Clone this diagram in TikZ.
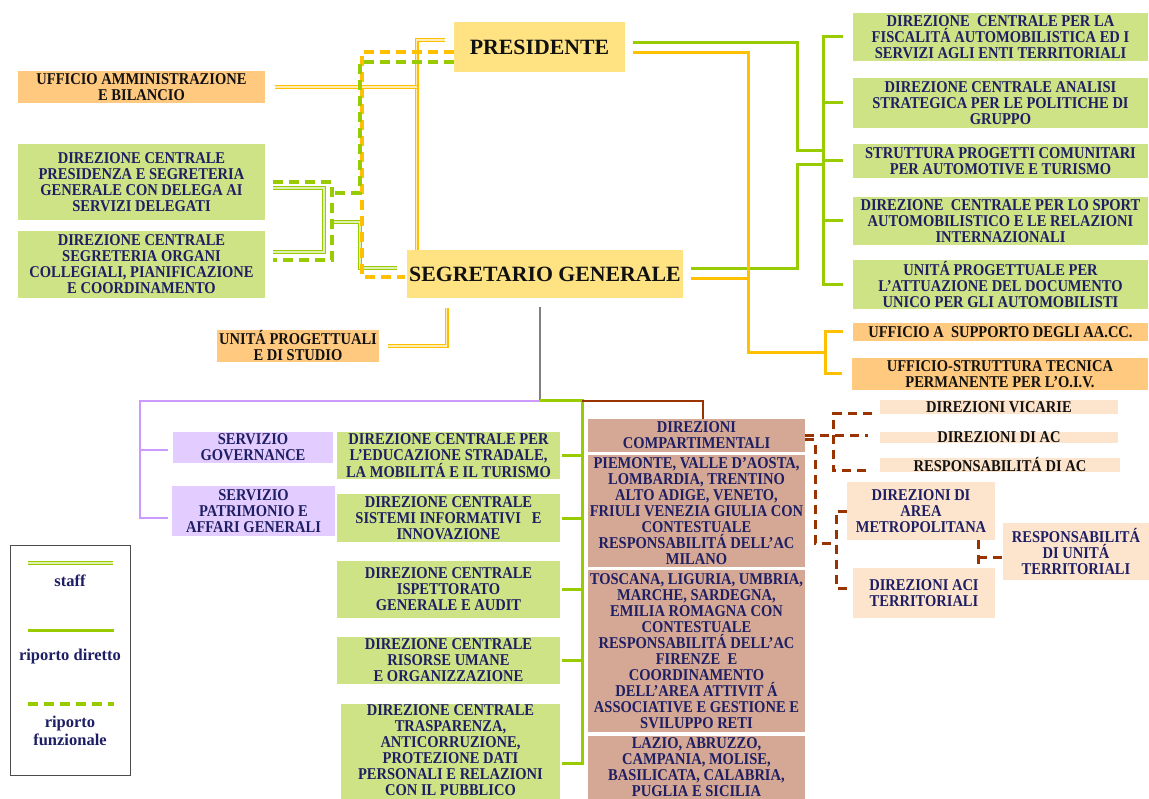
\documentclass[tikz,border=0pt]{standalone}
\usepackage{fontspec}
\setmainfont{Liberation Serif}
\newfontfamily\unitfont{Liberation Serif}[FakeStretch=0.88]
\usetikzlibrary{fit}

\definecolor{navy}{HTML}{1E1E64}
\definecolor{ink}{HTML}{111111}
\definecolor{linegreen}{HTML}{99CC00}
\definecolor{lineorange}{HTML}{FFC000}
\definecolor{linepurple}{HTML}{CC99FF}
\definecolor{linebrown}{HTML}{993300}
\definecolor{linegray}{HTML}{808080}
\definecolor{fillgreen}{HTML}{CDE385}
\definecolor{fillorange}{HTML}{FFC97F}
\definecolor{fillyellow}{HTML}{FFE282}
\definecolor{fillpurple}{HTML}{E3CCFF}
\definecolor{fillbrown}{HTML}{D4A894}
\definecolor{fillpeach}{HTML}{FDE4CC}

\tikzset{
  unit/.style={rectangle, inner sep=0pt, align=center, text=navy,
    font=\unitfont\fontsize{16.5}{16}\selectfont\bfseries},
  greenunit/.style={unit, fill=fillgreen},
  orangeunit/.style={unit, fill=fillorange, text=ink},
  topunit/.style={unit, fill=fillyellow, text=ink, font=\fontsize{21.8}{24}\selectfont\bfseries},
  purpleunit/.style={unit, fill=fillpurple},
  brownunit/.style={unit, fill=fillbrown},
  peachunit/.style={unit, fill=fillpeach},
  thinunit/.style={peachunit, text=ink},
  legendtext/.style={align=center, inner sep=0pt, text=navy,
    font=\fontsize{16.5}{18}\selectfont\bfseries},
  direct/.style={line width=3pt},
  staffline/.style={draw=#1, double=#1!30, line width=1.1pt, double distance=1.2pt},
  funcline/.style={line width=3.5pt, dash pattern=on 10pt off 6pt},
  bdash/.style={linebrown, line width=3pt, dash pattern=on 9pt off 6pt},
}

% style, name, x1, y1, x2, y2, text
\newcommand\orgunit[7]{%
  \node[#1, minimum width={#5-#3}, minimum height={#6-#4}] (#2)
    at ({(#3+#5)/2},{(#4+#6)/2}) {#7};}

\begin{document}
\begin{tikzpicture}[x=1pt, y=-1pt]
    \useasboundingbox (0,0) rectangle (1149,799);

    \orgunit{topunit}{pres}{454}{22}{625}{72}{PRESIDENTE}
    \orgunit{topunit}{segr}{407}{250}{683}{298}{SEGRETARIO GENERALE}

    \orgunit{orangeunit}{uffamm}{18}{71}{265}{103}{UFFICIO AMMINISTRAZIONE\\E BILANCIO}
    \orgunit{greenunit}{dcpres}{18}{144}{265}{220}{DIREZIONE CENTRALE\\PRESIDENZA E SEGRETERIA\\GENERALE CON DELEGA AI\\SERVIZI DELEGATI}
    \orgunit{greenunit}{dcsegr}{18}{231}{265}{298}{DIREZIONE CENTRALE\\SEGRETERIA ORGANI\\COLLEGIALI, PIANIFICAZIONE\\E COORDINAMENTO}
    \orgunit{orangeunit}{unitprog}{217}{330}{379}{362}{UNITÁ PROGETTUALI\\E DI STUDIO}

    \orgunit{greenunit}{fisc}{853}{13}{1148}{61}{DIREZIONE~ CENTRALE PER LA\\FISCALITÁ AUTOMOBILISTICA ED I\\SERVIZI AGLI ENTI TERRITORIALI}
    \orgunit{greenunit}{analisi}{853}{78}{1148}{128}{DIREZIONE CENTRALE ANALISI\\STRATEGICA PER LE POLITICHE DI\\GRUPPO}
    \orgunit{greenunit}{progcom}{853}{144}{1148}{178}{STRUTTURA PROGETTI COMUNITARI\\PER AUTOMOTIVE E TURISMO}
    \orgunit{greenunit}{sport}{853}{197}{1148}{245}{DIREZIONE~ CENTRALE PER LO SPORT\\AUTOMOBILISTICO E LE RELAZIONI\\INTERNAZIONALI}
    \orgunit{greenunit}{docunico}{853}{260}{1148}{309}{UNITÁ PROGETTUALE PER\\L’ATTUAZIONE DEL DOCUMENTO\\UNICO PER GLI AUTOMOBILISTI}
    \orgunit{orangeunit}{suppaacc}{853}{323}{1148}{341}{UFFICIO A~ SUPPORTO DEGLI AA.CC.}
    \orgunit{orangeunit}{oiv}{852}{358}{1148}{390}{UFFICIO-STRUTTURA TECNICA\\PERMANENTE PER L’O.I.V.}

    \orgunit{purpleunit}{govern}{173}{432}{333}{463}{SERVIZIO\\GOVERNANCE}
    \orgunit{purpleunit}{patrim}{172}{486}{335}{536}{SERVIZIO\\PATRIMONIO E\\AFFARI GENERALI}
    \orgunit{greenunit}{educ}{337}{432}{560}{479}{DIREZIONE CENTRALE PER\\L’EDUCAZIONE STRADALE,\\LA MOBILITÁ E IL TURISMO}
    \orgunit{greenunit}{sistinf}{337}{494}{560}{542}{DIREZIONE CENTRALE\\SISTEMI INFORMATIVI~~ E\\INNOVAZIONE}
    \orgunit{greenunit}{ispett}{337}{561}{560}{618}{DIREZIONE CENTRALE\\ISPETTORATO\\GENERALE E AUDIT}
    \orgunit{greenunit}{risorse}{337}{637}{560}{684}{DIREZIONE CENTRALE\\RISORSE UMANE\\E ORGANIZZAZIONE}
    \orgunit{greenunit}{traspar}{341}{704}{560}{796}{DIREZIONE CENTRALE\\TRASPARENZA,\\ANTICORRUZIONE,\\PROTEZIONE DATI\\PERSONALI E RELAZIONI\\CON IL PUBBLICO}
    \fill[fillgreen] (traspar.south west) rectangle (560,799);

    \orgunit{brownunit}{dircomp}{588}{419}{805}{452}{DIREZIONI\\COMPARTIMENTALI}
    \orgunit{brownunit}{piemonte}{588}{455}{805}{567}{PIEMONTE, VALLE D’AOSTA,\\LOMBARDIA, TRENTINO\\ALTO ADIGE, VENETO,\\FRIULI VENEZIA GIULIA CON\\CONTESTUALE\\RESPONSABILITÁ DELL’AC\\MILANO}
    \orgunit{brownunit}{toscana}{588}{570}{805}{732}{TOSCANA, LIGURIA, UMBRIA,\\MARCHE, SARDEGNA,\\EMILIA ROMAGNA CON\\CONTESTUALE\\RESPONSABILITÁ DELL’AC\\FIRENZE~ E\\COORDINAMENTO\\DELL’AREA ATTIVIT Á\\ASSOCIATIVE E GESTIONE E\\SVILUPPO RETI}
    \orgunit{brownunit}{lazio}{588}{736}{805}{799}{LAZIO, ABRUZZO,\\CAMPANIA, MOLISE,\\BASILICATA, CALABRIA,\\PUGLIA E SICILIA}

    \orgunit{thinunit}{vicarie}{880}{400}{1118}{414}{DIREZIONI VICARIE}
    \orgunit{thinunit}{dirac}{880}{432}{1118}{443}{DIREZIONI DI AC}
    \orgunit{thinunit}{respac}{880}{458}{1120}{472}{RESPONSABILITÁ DI AC}
    \orgunit{peachunit}{metro}{847}{482}{995}{540}{DIREZIONI DI\\AREA\\METROPOLITANA}
    \orgunit{peachunit}{aciterr}{853}{568}{995}{618}{DIREZIONI ACI\\TERRITORIALI}
    \orgunit{peachunit}{unitterr}{1003}{523}{1149}{580}{RESPONSABILITÁ\\DI UNITÁ\\TERRITORIALI}

    \coordinate (gbus) at (823,0);
    \coordinate (obus) at (825,0);
    \draw[direct, linegreen] ([shift={(8,-4)}]pres.east) -| (797,151) -- (823,151);
    \draw[direct, linegreen] ([shift={(8,-5)}]segr.east) -| (797,165) -- (823,165);
    \draw[direct, linegreen] ([xshift=-10]fisc.west) -| (gbus |- docunico.west) -- ([xshift=-10]docunico.west);
    \foreach \n in {analisi,progcom,sport}
        \draw[direct, linegreen] (gbus |- \n.west) -- ([xshift=-10]\n.west);
    \draw[direct, lineorange] ([shift={(8,6)}]pres.east) -| (748,353) -- (825,353);
    \draw[direct, lineorange] ([shift={(8,5)}]segr.east) -- (748,279);
    \draw[direct, lineorange] ([xshift=-10]suppaacc.west) -| (obus |- oiv.west) -- ([xshift=-10]oiv.west);

    \draw[staffline=lineorange] ([shift={(-9,-7)}]pres.west) -| ([xshift=10]segr.north west);
    \draw[staffline=lineorange] ([xshift=10]uffamm.east) -- (417,87);
    \draw[staffline=lineorange] ([xshift=9]unitprog.east) -| ([shift={(40,10)}]segr.south west);
    \draw[staffline=linegreen] ([shift={(8,6)}]dcpres.east) -| (324,252) -- ([shift={(8,-12.5)}]dcsegr.east);
    \draw[staffline=linegreen] (332,222) -| (360,268) -- ([shift={(-10,-6)}]segr.west);
    \draw[funcline, lineorange] ([shift={(0,5)}]pres.west) -| (362,277) -- ([shift={(-2,3)}]segr.west);
    \draw[funcline, linegreen] ([shift={(0,15)}]pres.west) -| (360,193) -- (332,193);
    \draw[funcline, linegreen] ([xshift=8]dcpres.east) -| (332,260) -- ([shift={(8,-4.5)}]dcsegr.east);

    \coordinate (hub) at (540,401);
    \coordinate (gbus2) at (582,0);
    \draw[line width=2.5pt, linegray] ([shift={(-5,9)}]segr.south) -- (hub);
    \draw[line width=2.5pt, linepurple] (hub) -| (140,518) -- ([shift={(-4,7)}]patrim.west);
    \draw[line width=2.5pt, linepurple] (140,450) -- ([shift={(-5,2.5)}]govern.west);
    \draw[direct, linegreen] (hub) -| (gbus2 |- 0,763) -- ([shift={(2,13)}]traspar.east);
    \foreach \n in {educ,sistinf,ispett,risorse}
        \draw[direct, linegreen] ([xshift=2]\n.east) -- (gbus2 |- \n.east);
    \draw[line width=2.5pt, linebrown] (gbus2 |- hub) -| ([xshift=6.5]dircomp.north);

    \draw[bdash] (dircomp.east) -- ++(63,0);
    \draw[bdash] ([shift={(-8,7)}]vicarie.west) -| (833,471) -- ([shift={(-8,6)}]respac.west);
    \draw[bdash] ([shift={(0,4.5)}]dircomp.east) -| (815,543) -- (836,543);
    \draw[bdash] (metro.west) -| (836,588) -- ([shift={(0,-5)}]aciterr.west);
    \draw[bdash] ([xshift=57]metro.south) -- ([xshift=54]aciterr.north);
    \draw[bdash] (978,557) -- ([shift={(0,5.5)}]unitterr.west);

    \node[draw=black!70, line width=0.8pt, inner sep=0pt, fit={(10,545) (130,775)}] (legend) {};
    \draw[staffline=linegreen] (28,563) -- (113,563);
    \node[legendtext] (stafflbl) at (70,581) {staff};
    \draw[direct, linegreen] (28,630) -- (114,630);
    \node[legendtext] (directlbl) at (70,657) {riporto diretto};
    \draw[funcline, linegreen] (28,704) -- (114,704);
    \node[legendtext] (funclbl) at (70,731) {riporto\\funzionale};

\end{tikzpicture}
\end{document}
